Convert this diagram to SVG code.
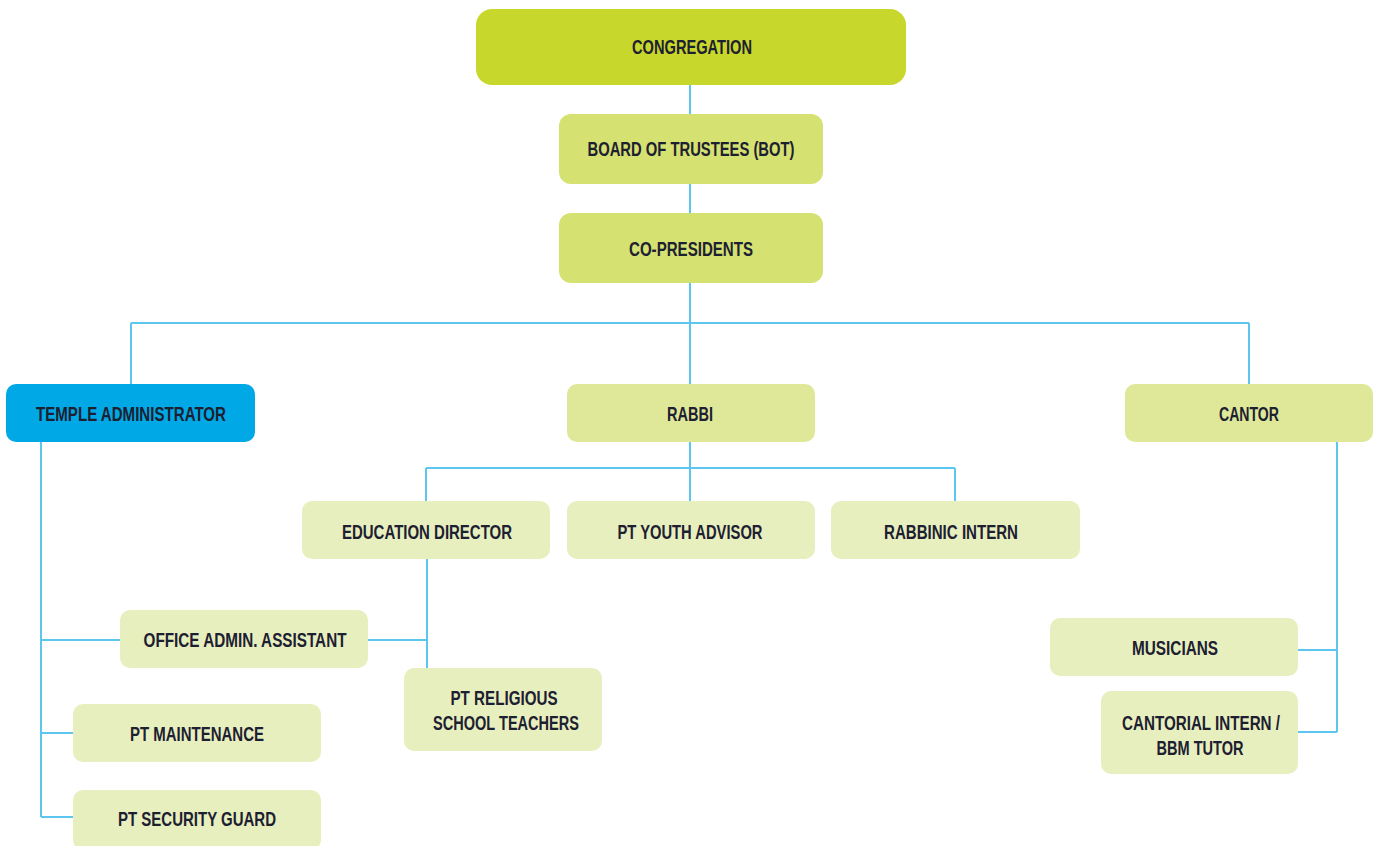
<svg xmlns="http://www.w3.org/2000/svg" width="1377" height="846" viewBox="0 0 1377 846">
<style>
.t{font-family:"Liberation Sans","Arial",sans-serif;font-weight:bold;font-size:21px;fill:#1c2030;text-anchor:middle;dominant-baseline:central}
.c{fill:none;stroke:#5cc6ef;stroke-width:2}
.l1{fill:#c8d72b}
.l2{fill:#d5e170}
.l3{fill:#dfe899}
.l4{fill:#e8efbf}
.blue{fill:#00a9e6}
</style>
<rect width="1377" height="846" fill="#ffffff"/>
<g id="connectors">
<path class="c" d="M690 85V114M690 184V213M690 283V384M131 323H1249M131 323V384M1249 323V384"/>
<path class="c" d="M690 442V501M426 468H955M426 468V501M955 468V501"/>
<path class="c" d="M41 442V817M41 640H120M41 733H73M41 817H73"/>
<path class="c" d="M427 559V668M368 640H427"/>
<path class="c" d="M1337 442V732M1298 650H1337M1298 732H1337"/>
</g>
<g id="congregation"><rect class="l1" x="476" y="9" width="430" height="76" rx="16"/><text class="t" x="692" y="46" textLength="120" lengthAdjust="spacingAndGlyphs">CONGREGATION</text></g>
<g id="bot"><rect class="l2" x="559" y="114" width="264" height="70" rx="12"/><text class="t" x="691" y="148" textLength="207" lengthAdjust="spacingAndGlyphs">BOARD OF TRUSTEES (BOT)</text></g>
<g id="copresidents"><rect class="l2" x="559" y="213" width="264" height="70" rx="12"/><text class="t" x="691" y="248" textLength="124" lengthAdjust="spacingAndGlyphs">CO-PRESIDENTS</text></g>
<g id="temple-admin"><rect class="blue" x="6" y="384" width="249" height="58" rx="10"/><text class="t" x="131" y="413" textLength="190" lengthAdjust="spacingAndGlyphs">TEMPLE ADMINISTRATOR</text></g>
<g id="rabbi"><rect class="l3" x="567" y="384" width="248" height="58" rx="10"/><text class="t" x="690" y="413" textLength="46" lengthAdjust="spacingAndGlyphs">RABBI</text></g>
<g id="cantor"><rect class="l3" x="1125" y="384" width="248" height="58" rx="10"/><text class="t" x="1249" y="413" textLength="60" lengthAdjust="spacingAndGlyphs">CANTOR</text></g>
<g id="education-director"><rect class="l4" x="302" y="501" width="248" height="58" rx="10"/><text class="t" x="427" y="531" textLength="170" lengthAdjust="spacingAndGlyphs">EDUCATION DIRECTOR</text></g>
<g id="youth-advisor"><rect class="l4" x="567" y="501" width="248" height="58" rx="10"/><text class="t" x="690" y="531" textLength="145" lengthAdjust="spacingAndGlyphs">PT YOUTH ADVISOR</text></g>
<g id="rabbinic-intern"><rect class="l4" x="831" y="501" width="249" height="58" rx="10"/><text class="t" x="951" y="531" textLength="134" lengthAdjust="spacingAndGlyphs">RABBINIC INTERN</text></g>
<g id="office-admin"><rect class="l4" x="120" y="610" width="248" height="58" rx="10"/><text class="t" x="245" y="639" textLength="203" lengthAdjust="spacingAndGlyphs">OFFICE ADMIN. ASSISTANT</text></g>
<g id="religious-teachers"><rect class="l4" x="404" y="668" width="198" height="83" rx="10"/><text class="t" x="504" y="697" textLength="107" lengthAdjust="spacingAndGlyphs">PT RELIGIOUS</text><text class="t" x="506" y="722" textLength="146" lengthAdjust="spacingAndGlyphs">SCHOOL TEACHERS</text></g>
<g id="maintenance"><rect class="l4" x="73" y="704" width="248" height="58" rx="10"/><text class="t" x="197" y="733" textLength="134" lengthAdjust="spacingAndGlyphs">PT MAINTENANCE</text></g>
<g id="security"><rect class="l4" x="73" y="790" width="248" height="60" rx="10"/><text class="t" x="197" y="818" textLength="158" lengthAdjust="spacingAndGlyphs">PT SECURITY GUARD</text></g>
<g id="musicians"><rect class="l4" x="1050" y="618" width="248" height="58" rx="10"/><text class="t" x="1175" y="647" textLength="86" lengthAdjust="spacingAndGlyphs">MUSICIANS</text></g>
<g id="cantorial-intern"><rect class="l4" x="1101" y="691" width="197" height="83" rx="10"/><text class="t" x="1201" y="722" textLength="158" lengthAdjust="spacingAndGlyphs">CANTORIAL INTERN /</text><text class="t" x="1200" y="747" textLength="87" lengthAdjust="spacingAndGlyphs">BBM TUTOR</text></g>
</svg>
